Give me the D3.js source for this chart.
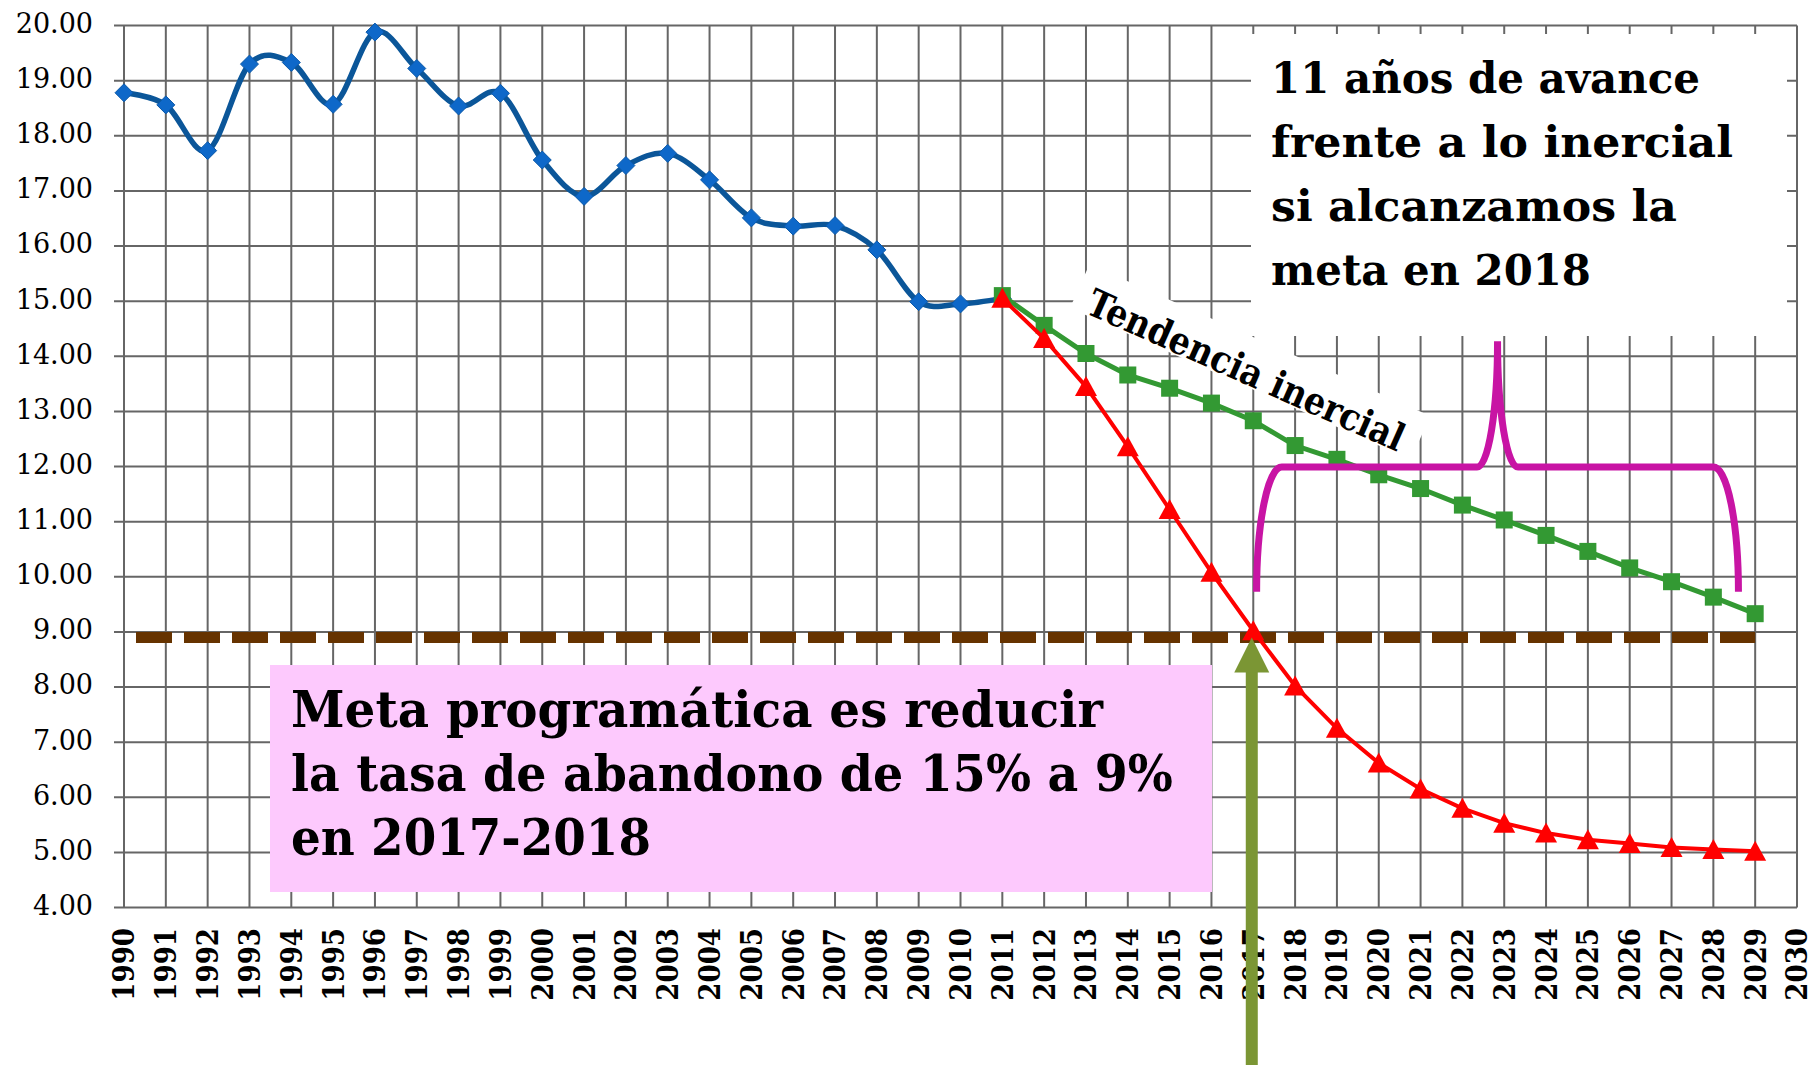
<!DOCTYPE html>
<html>
<head>
<meta charset="utf-8">
<script src="https://cdnjs.cloudflare.com/ajax/libs/d3/7.8.5/d3.min.js"></script>
<style>
body { margin: 0; background: #fff; }
</style>
</head>
<body>
<div id="chart"></div>
<script>
const width = 1817;
const height = 1065;

// axis ticks
const xTicks = [1990, 1991, 1992, 1993, 1994, 1995, 1996, 1997, 1998, 1999,
    2000, 2001, 2002, 2003, 2004, 2005, 2006, 2007, 2008, 2009,
    2010, 2011, 2012, 2013, 2014, 2015, 2016, 2017, 2018, 2019,
    2020, 2021, 2022, 2023, 2024, 2025, 2026, 2027, 2028, 2029, 2030];
const yTicks = [4, 5, 6, 7, 8, 9, 10, 11, 12, 13, 14, 15, 16, 17, 18, 19, 20];

// tasa de abandono observada
const histYears = [1990, 1991, 1992, 1993, 1994, 1995, 1996, 1997, 1998, 1999, 2000,
    2001, 2002, 2003, 2004, 2005, 2006, 2007, 2008, 2009, 2010, 2011];
const histValues = [18.78, 18.56, 17.73, 19.30, 19.33, 18.57, 19.88, 19.22, 18.54, 18.77, 17.56,
    16.90, 17.46, 17.68, 17.20, 16.51, 16.36, 16.37, 15.93, 14.99, 14.95, 15.05];

// proyecciones
const projYears = [2011, 2012, 2013, 2014, 2015, 2016, 2017, 2018, 2019, 2020,
    2021, 2022, 2023, 2024, 2025, 2026, 2027, 2028, 2029];
const inercialValues = [15.10, 14.56, 14.05, 13.66, 13.42, 13.15, 12.83, 12.38, 12.13, 11.85,
    11.60, 11.30, 11.03, 10.75, 10.46, 10.16, 9.91, 9.63, 9.33];
const metaValues = [15.05, 14.32, 13.45, 12.36, 11.22, 10.08, 9.02, 8.02, 7.25, 6.62,
    6.15, 5.80, 5.53, 5.35, 5.23, 5.16, 5.09, 5.05, 5.02];

// meta, flecha y llave
const metaLevel = 8.9;
const metaFrom = 1990, metaTo = 2029;
const arrowYear = 2017;
const braceYears = [2017.08, 2022.84, 2028.60];   // izquierda, pico, derecha
const braceValues = [9.73, 11.99, 14.27];         // extremos, barra, pico

// textos
const noteLines = ["11 años de avance", "frente a lo inercial", "si alcanzamos la", "meta en 2018"];
const noteWidths = [429, 462, 406, 320];
const goalLines = ["Meta programática es reducir", "la tasa de abandono de 15% a 9%", "en 2017-2018"];
const goalWidths = [812, 882, 360];
const trendLabel = "Tendencia inercial";

const gridColor = "#666666";

const svg = d3.select('#chart')
    .append('svg')
    .attr('width', width)
    .attr('height', height)
    .style('display', 'block')
    .style('background', '#fff');

const x = d3.scaleLinear().domain([1990, 2030]).range([124, 1797]);
const y = d3.scaleLinear().domain([4, 20]).range([907.5, 25.5]);

// grid
const gridG = svg.append('g');
gridG.selectAll('line.h')
    .data(yTicks)
    .enter().append('line')
    .attr('class', 'h')
    .attr('x1', x(1990) - 10)
    .attr('x2', x(2030))
    .attr('y1', d => y(d))
    .attr('y2', d => y(d))
    .attr('stroke', gridColor)
    .attr('stroke-width', 2);

gridG.selectAll('line.v')
    .data(xTicks)
    .enter().append('line')
    .attr('class', 'v')
    .attr('x1', d => x(d))
    .attr('x2', d => x(d))
    .attr('y1', y(20))
    .attr('y2', y(4))
    .attr('stroke', gridColor)
    .attr('stroke-width', 2);

// y labels
svg.append('g').selectAll('text')
    .data(yTicks)
    .enter().append('text')
    .attr('x', 93)
    .attr('y', d => y(d) - 2)
    .attr('dy', '0.35em')
    .attr('text-anchor', 'end')
    .style('font-family', '"DejaVu Serif", serif')
    .style('font-size', '27px')
    .text(d => d3.format('.2f')(d));

// x labels, rotated
svg.append('g').selectAll('text')
    .data(xTicks)
    .enter().append('text')
    .attr('transform', d => 'translate(' + x(d) + ',928) rotate(-90)')
    .attr('dy', '0.36em')
    .attr('text-anchor', 'end')
    .style('font-family', '"DejaVu Serif Condensed", "DejaVu Serif", serif')
    .style('font-weight', 'bold')
    .style('font-size', '29px')
    .text(d => d);

// cajas de texto
svg.append('rect')
    .attr('x', 270).attr('y', 665)
    .attr('width', 1212 - 270).attr('height', 892 - 665)
    .attr('fill', '#fdc9fd');

svg.append('rect')
    .attr('x', 1251).attr('y', 34)
    .attr('width', 1787 - 1251).attr('height', 336 - 34)
    .attr('fill', '#fff');

// fondo blanco de la etiqueta inclinada
const trendG = svg.append('g')
    .attr('transform', 'translate(1246,370) rotate(24)');
trendG.append('rect')
    .attr('x', -186).attr('y', -33)
    .attr('width', 373).attr('height', 48)
    .attr('fill', '#fff');

// meta 9%
svg.append('line')
    .attr('x1', x(metaFrom)).attr('x2', x(metaTo))
    .attr('y1', y(metaLevel)).attr('y2', y(metaLevel))
    .attr('stroke', '#663300')
    .attr('stroke-width', 11)
    .attr('stroke-dasharray', '36,12')
    .attr('stroke-dashoffset', 36);

// serie historica (suavizada)
const hist = histYears.map((d, i) => ({year: d, value: histValues[i]}));
const inercial = projYears.map((d, i) => ({year: d, value: inercialValues[i]}));
const meta = projYears.map((d, i) => ({year: d, value: metaValues[i]}));

const smoothLine = d3.line()
    .x(d => x(d.year))
    .y(d => y(d.value))
    .curve(d3.curveCardinal.tension(0));
const straightLine = d3.line()
    .x(d => x(d.year))
    .y(d => y(d.value));

svg.append('path')
    .datum(hist)
    .attr('d', smoothLine)
    .attr('fill', 'none')
    .attr('stroke', '#0b5699')
    .attr('stroke-width', 5.5);

svg.append('g').selectAll('path')
    .data(hist)
    .enter().append('path')
    .attr('transform', d => 'translate(' + x(d.year) + ',' + y(d.value) + ')')
    .attr('d', 'M0,-9L9,0L0,9L-9,0Z')
    .attr('fill', '#0e68c9')
    .attr('stroke', '#0a58a8')
    .attr('stroke-width', 1);

// tendencia inercial
svg.append('path')
    .datum(inercial)
    .attr('d', straightLine)
    .attr('fill', 'none')
    .attr('stroke', '#339933')
    .attr('stroke-width', 5);

svg.append('g').selectAll('rect')
    .data(inercial)
    .enter().append('rect')
    .attr('x', d => x(d.year) - 8.5)
    .attr('y', d => y(d.value) - 8.5)
    .attr('width', 17)
    .attr('height', 17)
    .attr('fill', '#339933');

// trayectoria a la meta
svg.append('path')
    .datum(meta)
    .attr('d', straightLine)
    .attr('fill', 'none')
    .attr('stroke', '#ff0000')
    .attr('stroke-width', 4);

svg.append('g').selectAll('path')
    .data(meta)
    .enter().append('path')
    .attr('transform', d => 'translate(' + x(d.year) + ',' + y(d.value) + ')')
    .attr('d', 'M0,-10.5L11,9.5L-11,9.5Z')
    .attr('fill', '#ff0000');

// llave de 11 años
const xL = x(braceYears[0]), xP = x(braceYears[1]), xR = x(braceYears[2]);
const yEnd = y(braceValues[0]), yBar = y(braceValues[1]), yPeak = y(braceValues[2]);
const armW = x(1990.6) - x(1990);
const peakW = x(1990.49) - x(1990);
const armH = yEnd - yBar;
const peakH = yBar - yPeak;
const braceD = 'M' + xL + ',' + yEnd +
    'A' + armW + ',' + armH + ' 0 0 1 ' + (xL + armW) + ',' + yBar +
    'L' + (xP - peakW) + ',' + yBar +
    'A' + peakW + ',' + peakH + ' 0 0 0 ' + xP + ',' + yPeak +
    'A' + peakW + ',' + peakH + ' 0 0 0 ' + (xP + peakW) + ',' + yBar +
    'L' + (xR - armW) + ',' + yBar +
    'A' + armW + ',' + armH + ' 0 0 1 ' + xR + ',' + yEnd;
svg.append('path')
    .attr('d', braceD)
    .attr('fill', 'none')
    .attr('stroke', '#c814a4')
    .attr('stroke-width', 7);

// flecha
const ax = x(arrowYear) - 1.5;
const ay = y(metaLevel);
svg.append('rect')
    .attr('x', ax - 6).attr('y', ay + 30)
    .attr('width', 12).attr('height', height - ay - 30)
    .attr('fill', '#7b9634');
svg.append('path')
    .attr('d', 'M' + ax + ',' + ay + 'L' + (ax + 17.5) + ',' + (ay + 35) + 'L' + (ax - 17.5) + ',' + (ay + 35) + 'Z')
    .attr('fill', '#7b9634');

// textos
svg.append('g').selectAll('text')
    .data(noteLines)
    .enter().append('text')
    .attr('x', 1271)
    .attr('y', (d, i) => 93 + i * 64)
    .attr('textLength', (d, i) => noteWidths[i])
    .attr('lengthAdjust', 'spacingAndGlyphs')
    .style('font-family', '"DejaVu Serif", serif')
    .style('font-weight', 'bold')
    .style('font-size', '42px')
    .text(d => d);

svg.append('g').selectAll('text')
    .data(goalLines)
    .enter().append('text')
    .attr('x', 291)
    .attr('y', (d, i) => 727 + i * 64)
    .attr('textLength', (d, i) => goalWidths[i])
    .attr('lengthAdjust', 'spacingAndGlyphs')
    .style('font-family', '"DejaVu Serif", serif')
    .style('font-weight', 'bold')
    .style('font-size', '50px')
    .text(d => d);

trendG.append('text')
    .attr('x', 0)
    .attr('y', 0)
    .attr('dy', '0.35em')
    .attr('text-anchor', 'middle')
    .attr('textLength', 343)
    .attr('lengthAdjust', 'spacingAndGlyphs')
    .style('font-family', '"DejaVu Serif", serif')
    .style('font-weight', 'bold')
    .style('font-size', '38px')
    .text(trendLabel);
</script>
</body>
</html>
